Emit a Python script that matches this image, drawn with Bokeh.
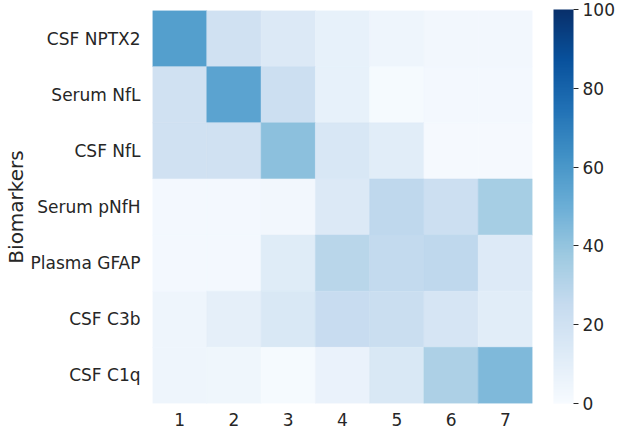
from bokeh.plotting import figure
from bokeh.models import ColumnDataSource, LinearColorMapper, ColorBar, FixedTicker, FactorRange
from bokeh.transform import transform
from bokeh.palettes import Blues256
from bokeh.embed import file_html
from bokeh.resources import INLINE

biomarkers = ["CSF NPTX2", "Serum NfL", "CSF NfL", "Serum pNfH", "Plasma GFAP", "CSF C3b", "CSF C1q"]
stages = ["1", "2", "3", "4", "5", "6", "7"]

row_nptx2 = [57, 20, 14, 8, 5, 3, 3]
row_serum_nfl = [20, 55, 22, 8, 1, 2, 2]
row_csf_nfl = [20, 20, 42, 16, 11, 1.5, 1.5]
row_pnfh = [2, 2, 3, 14, 27, 22, 35]
row_gfap = [2, 2, 12, 29, 26, 27, 13]
row_c3b = [5, 9, 15, 24, 23, 17, 11]
row_c1q = [5, 4, 1, 7, 15, 33, 45]
rows = [row_nptx2, row_serum_nfl, row_csf_nfl, row_pnfh, row_gfap, row_c3b, row_c1q]
cbar_ticks = [0, 20, 40, 60, 80, 100]

xs, ys, vs = [], [], []
for name, vals in zip(biomarkers, rows):
    for s, v in zip(stages, vals):
        xs.append(s)
        ys.append(name)
        vs.append(v)
src = ColumnDataSource(dict(x=xs, y=ys, v=vs))

mapper = LinearColorMapper(palette=list(Blues256[::-1]), low=0, high=100)

W, H = 617, 428
BT, BB, BL, BR = 10, 24, 152, 85
FW, FH = W - BL - BR, H - BT - BB

p = figure(width=W, height=H, output_backend="svg", toolbar_location=None,
           x_range=FactorRange(*stages), y_range=FactorRange(*biomarkers[::-1]),
           min_border_top=BT, min_border_bottom=BB, min_border_right=BR, min_border_left=BL)
p.rect(x="x", y="y", width=1, height=1, source=src,
       fill_color=transform("v", mapper), line_color=transform("v", mapper), line_width=0.5)

p.outline_line_color = None
p.grid.grid_line_color = None
p.background_fill_color = "white"
p.border_fill_color = "white"
for ax in (p.xaxis, p.yaxis):
    ax.axis_line_color = None
    ax.major_tick_line_color = None
    ax.minor_tick_line_color = None
    ax.major_tick_out = 0
    ax.major_tick_in = 0
    ax.major_label_text_font = "DejaVu Sans"
    ax.major_label_text_font_size = "17px"
    ax.major_label_text_color = "#262626"
p.xaxis.major_label_standoff = 9
p.yaxis.major_label_standoff = 12
p.yaxis.axis_label = "Biomarkers"
p.yaxis.axis_label_text_font = "DejaVu Sans"
p.yaxis.axis_label_text_font_style = "normal"
p.yaxis.axis_label_text_font_size = "20px"
p.yaxis.axis_label_text_color = "#262626"
p.yaxis.axis_label_standoff = 0

cb = ColorBar(color_mapper=mapper, ticker=FixedTicker(ticks=cbar_ticks),
              width=20, height=FH, margin=0, padding=0, location=(FW + 21, 0),
              major_tick_in=0, major_tick_out=5, major_tick_line_color="#262626",
              minor_tick_line_color=None, bar_line_color=None, border_line_color=None,
              major_label_text_font="DejaVu Sans", major_label_text_font_size="17px",
              major_label_text_color="#262626", label_standoff=4,
              background_fill_color=None)
p.add_layout(cb, "center")

open("out.html", "w").write(file_html(p, INLINE))
